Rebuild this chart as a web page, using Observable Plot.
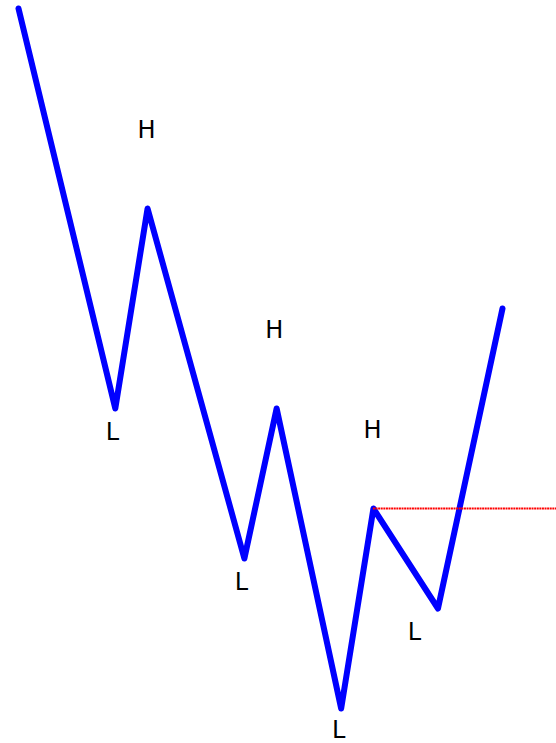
<!DOCTYPE html>
<html>
<head>
<meta charset="utf-8">
<script src="https://cdn.jsdelivr.net/npm/d3@7"></script>
<script src="https://cdn.jsdelivr.net/npm/@observablehq/plot@0.6"></script>
<style>
html, body { margin: 0; padding: 0; background: white; overflow: hidden; }
</style>
</head>
<body>
<div id="chart"></div>
<script>
// Zigzag path
const pathX = [0, 3, 4, 7, 8, 10, 11, 13, 15];
const pathY = [14, 6, 10, 3, 6, 0, 4, 2, 8];

// High labels
const highX = [3.97, 7.93, 10.97];
const highY = [11.56, 7.56, 5.56];
const highText = ["H", "H", "H"];

// Low labels
const lowX = [2.91, 6.91, 9.92, 12.27];
const lowY = [5.52, 2.52, -0.44, 1.52];
const lowText = ["L", "L", "L", "L"];

// Breakout level
const levelY = 4;
const levelStartX = 11;
const levelEndX = 16.7;

const path = pathX.map((x, i) => ({x, y: pathY[i]}));
const labels = [
  ...highX.map((x, i) => ({x, y: highY[i], t: highText[i]})),
  ...lowX.map((x, i) => ({x, y: lowY[i], t: lowText[i]}))
];

const chart = Plot.plot({
  width: 556,
  height: 743,
  margin: 0,
  style: {fontFamily: "DejaVu Sans", background: "white"},
  x: {domain: [0, 15], range: [18, 502], axis: null},
  y: {domain: [0, 14], range: [708, 8], axis: null},
  marks: [
    Plot.line(path, {x: "x", y: "y", stroke: "#0000ff", strokeWidth: 6, strokeLinejoin: "round", strokeLinecap: "round"}),
    Plot.ruleY([levelY], {x1: levelStartX, x2: levelEndX, stroke: "#ff0000", strokeWidth: 2, strokeDasharray: "2,0.6"}),
    Plot.text(labels, {x: "x", y: "y", text: "t", fontSize: 24, fill: "black", textAnchor: "middle"})
  ]
});
document.getElementById("chart").appendChild(chart);
</script>
</body>
</html>
